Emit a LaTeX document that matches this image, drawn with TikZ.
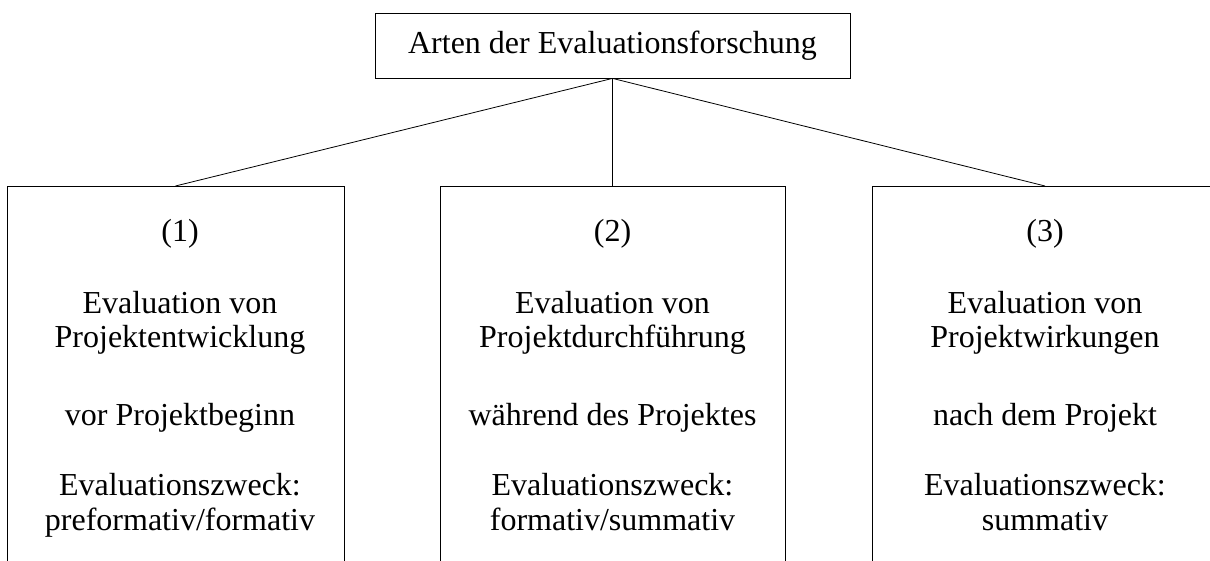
\documentclass[tikz,border=0pt]{standalone}
\usepackage{fontspec}
\setmainfont{Liberation Serif}
\usetikzlibrary{positioning}
\newcommand*{\Schrift}{\fontsize{32}{34.5}\selectfont}

\begin{document}
\begin{tikzpicture}
	[x=1pt, y=-1pt, line width=0.8pt,
	 kasten/.style={draw, anchor=north, minimum height=420pt, inner sep=0pt},
	 zeile/.style={anchor=base, align=center, inner sep=0pt, font=\Schrift}];

	\useasboundingbox (0,0) rectangle (1210,561);
	\clip (0,0) rectangle (1210,561);

	%Oberbegriff
	\node [draw, minimum width=475pt, minimum height=65pt, font=\Schrift] (top) at (612.5,45.5) {Arten der Evaluationsforschung};

	%Kaesten
	\node [kasten, minimum width=337pt] (art1) at (175.5,186) {};
	\node [kasten, minimum width=345pt] (art2) at (612.5,186) {};
	\node [kasten, minimum width=346pt] (art3) at (1045,186) {};

	%Texte
	\foreach \n/\x/\was/\wann/\zweck in
		{1/180/Projektentwicklung/vor Projektbeginn/preformativ\slash formativ,
		 2/612.5/Projektdurchführung/während des Projektes/formativ\slash summativ,
		 3/1045/Projektwirkungen/nach dem Projekt/summativ}
	{
		\node [zeile] (nr\n) at (\x,242) {(\n)};
		\node [zeile] (was\n) at (\x,348) {Evaluation von\\\was};
		\node [zeile] (wann\n) at (\x,425) {\wann};
		\node [zeile] (zweck\n) at (\x,530) {Evaluationszweck:\\\zweck};
	}

	%Linien
	\foreach \n in {1,2,3}
	{
		\draw (top.south) -- (art\n.north);
	}
\end{tikzpicture}
\end{document}
